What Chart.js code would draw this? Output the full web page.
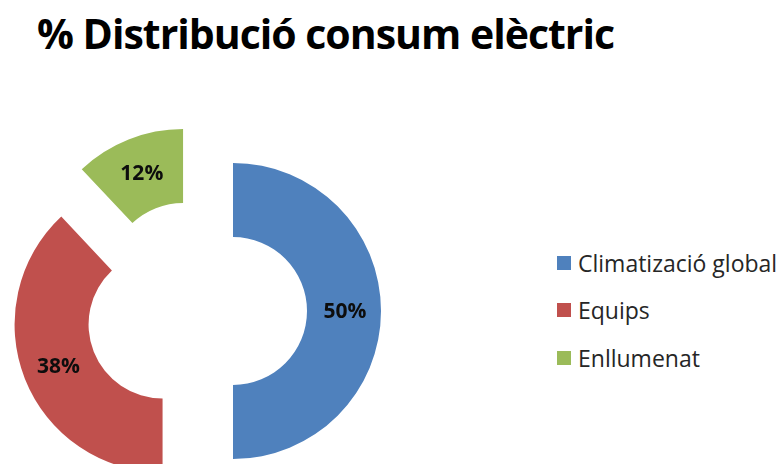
<!DOCTYPE html>
<html>
<head>
<meta charset="utf-8">
<title>% Distribució consum elèctric</title>
<script src="https://cdn.jsdelivr.net/npm/chart.js@4"></script>
<style>
    html, body { margin: 0; padding: 0; width: 781px; height: 464px; overflow: hidden; background: #fff; }
    #title {
        position: absolute; left: 37px; top: 5px; margin: 0;
        font-family: "Open Sans", sans-serif; font-weight: 700; font-size: 41px;
        letter-spacing: -1px; color: #000; white-space: nowrap;
    }
    #chart { position: absolute; left: 0; top: 0; }
    #legend { position: absolute; left: 557px; top: 239px; margin: 0; padding: 0; list-style: none; }
    #legend li {
        height: 47.5px; display: flex; align-items: center;
        font-family: "Open Sans", sans-serif; font-size: 23px; color: #262626; white-space: nowrap;
    }
    #legend li span { display: inline-block; width: 14px; height: 14px; margin-right: 7px; }
</style>
</head>
<body>
<h1 id="title">% Distribució consum elèctric</h1>
<canvas id="chart" width="400" height="622"></canvas>
<ul id="legend"></ul>
<script>
// consumption shares (%)
const categories = ['Climatizació global', 'Equips', 'Enllumenat'];
const shares = [50, 38, 12];
const colours = ['#4F81BD', '#C0504D', '#9BBB59'];

const EXPLODE = 36.5; // distance each slice is pulled out

// draw each arc pulled out along its middle angle, with the % label on it
const explodedSlices = {
    id: 'explodedSlices',
    beforeDatasetDraw(chart, args) {
        const ctx = chart.ctx;
        const total = shares.reduce((a, b) => a + b, 0);
        args.meta.data.forEach((arc, i) => {
            const mid = (arc.startAngle + arc.endAngle) / 2;
            const dx = Math.cos(mid) * EXPLODE;
            const dy = Math.sin(mid) * EXPLODE;
            ctx.save();
            ctx.translate(dx, dy);
            arc.draw(ctx);
            const p = arc.getCenterPoint();
            ctx.fillStyle = '#0d0d0d';
            ctx.font = 'bold 21px "Open Sans", sans-serif';
            ctx.textAlign = 'center';
            ctx.textBaseline = 'middle';
            ctx.fillText(Math.round(shares[i] / total * 100) + '%', p.x + Math.cos(mid) * 1, p.y + Math.sin(mid) * 1 + 1);
            ctx.restore();
        });
        return false;
    }
};

const chart = new Chart(document.getElementById('chart'), {
    type: 'doughnut',
    data: {
        labels: categories,
        datasets: [{
            data: shares,
            backgroundColor: colours,
            borderWidth: 0,
            hoverOffset: 0
        }]
    },
    options: {
        responsive: false,
        animation: false,
        cutout: '50%',
        layout: { padding: { left: 48.5, right: 55.5, top: 163, bottom: 163 } },
        plugins: {
            legend: { display: false },
            tooltip: { enabled: false }
        },
        events: []
    },
    plugins: [explodedSlices]
});

// html legend built from the chart's own legend items
const legendEl = document.getElementById('legend');
chart.options.plugins.legend.labels.generateLabels(chart).forEach(item => {
    const li = document.createElement('li');
    const box = document.createElement('span');
    box.style.background = item.fillStyle;
    li.appendChild(box);
    li.appendChild(document.createTextNode(item.text));
    legendEl.appendChild(li);
});
</script>
</body>
</html>
